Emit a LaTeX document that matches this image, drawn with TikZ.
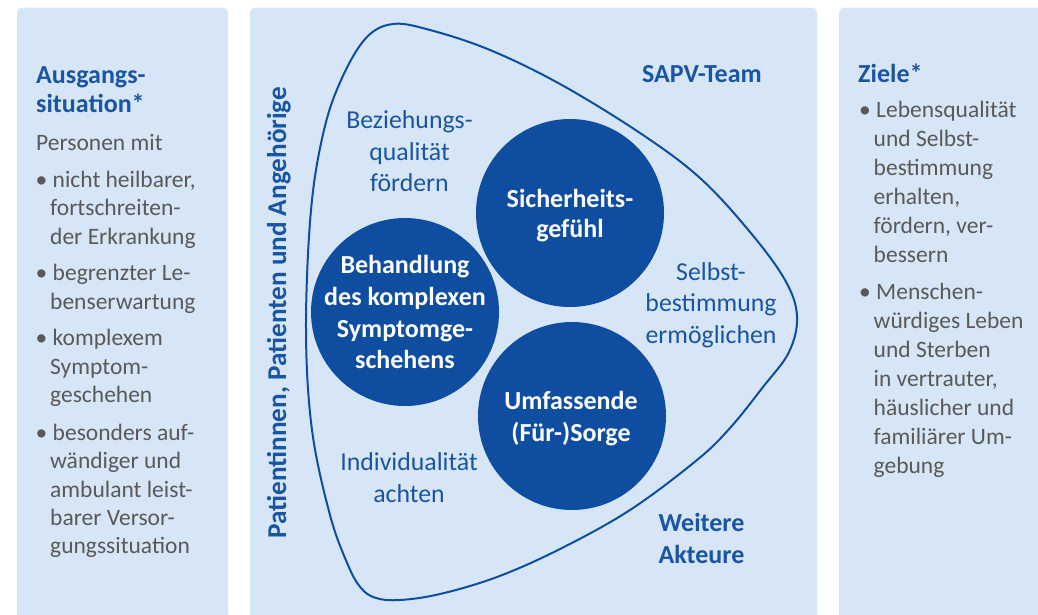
\documentclass[tikz,border=0pt]{standalone}
\usepackage{fontspec}
\setmainfont{Carlito}
\definecolor{panel}{HTML}{D6E6F6}
\definecolor{dblue}{HTML}{0E4DA0}
\definecolor{tblue}{HTML}{1A55A3}
\definecolor{tgray}{HTML}{595959}
\begin{document}
\begin{tikzpicture}[x=1pt,y=-1pt,
  graytxt/.style={anchor=base west, inner sep=0pt, text=tgray, font=\fontsize{23.5}{28}\selectfont},
  headtxt/.style={anchor=base west, inner sep=0pt, text=tblue, font=\fontsize{26}{30}\selectfont\bfseries},
  bluetxt/.style={anchor=base, inner sep=0pt, text=tblue, font=\fontsize{25.8}{31}\selectfont},
  boldblue/.style={anchor=base, inner sep=0pt, text=tblue, font=\fontsize{26}{31}\selectfont\bfseries},
  circtxt/.style={anchor=base, inner sep=0pt, text=white, font=\fontsize{26}{31}\selectfont\bfseries},
  disc/.style={circle, fill=dblue, draw=none, inner sep=0pt, minimum size=188pt},
  outline/.style={draw=dblue, line width=2pt}]
\useasboundingbox (0,0) rectangle (1038,614);
\clip (0,0) rectangle (1038,614);
\fill[white] (0,0) rectangle (1038,614);
% panels
\fill[panel, rounded corners=5pt] (17,7.5) rectangle (228,640);
\fill[panel, rounded corners=5pt] (250,7.5) rectangle (817,640);
\fill[panel, rounded corners=5pt] (839,7.5) rectangle (1060,640);

% left panel
\node[headtxt] (h1) at (36,83) {Ausgangs-};
\node[headtxt] (h2) at (36,112) {situation*};
\node[graytxt] (l0) at (36,150) {Personen mit};
\node[graytxt] (l1) at (35.5,187) {• nicht heilbarer,};
\node[graytxt] (l2) at (50,215.5) {fortschreiten-};
\node[graytxt] (l3) at (50,244) {der Erkrankung};
\node[graytxt] (l4) at (35.5,280.5) {• begrenzter Le-};
\node[graytxt] (l5) at (50,309) {benserwartung};
\node[graytxt] (l6) at (35.5,345.5) {• komplexem};
\node[graytxt] (l7) at (50,374) {Symptom-};
\node[graytxt] (l8) at (50,402.5) {geschehen};
\node[graytxt] (l9) at (35.5,440) {• besonders auf-};
\node[graytxt] (l10) at (50,468.5) {wändiger und};
\node[graytxt] (l11) at (50,497) {ambulant leist-};
\node[graytxt] (l12) at (50,525) {barer Versor-};
\node[graytxt] (l13) at (50,553.5) {gungssituation};

% right panel
\node[headtxt] (z0) at (858,82) {Ziele*};
\node[graytxt] (r1) at (859,117) {• Lebensqualität};
\node[graytxt] (r2) at (873.5,146) {und Selbst-};
\node[graytxt] (r3) at (873.5,175) {bestimmung};
\node[graytxt] (r4) at (873.5,204) {erhalten,};
\node[graytxt] (r5) at (873.5,233) {fördern, ver-};
\node[graytxt] (r6) at (873.5,262) {bessern};
\node[graytxt] (r7) at (859,299) {• Menschen-};
\node[graytxt] (r8) at (873.5,328) {würdiges Leben};
\node[graytxt] (r9) at (873.5,357) {und Sterben};
\node[graytxt] (r10) at (873.5,386) {in vertrauter,};
\node[graytxt] (r11) at (873.5,415) {häuslicher und};
\node[graytxt] (r12) at (873.5,444) {familiärer Um-};
\node[graytxt] (r13) at (873.5,473) {gebung};

% middle panel: outline
\draw[outline] plot[smooth cycle, tension=0.6] coordinates {
 (393,24) (430,30) (490,50) (560,84) (640,133) (700,178)
 (750,232) (785,280) (797,316) (789,352) (763,387) (730,428) (697,460)
 (630,510) (560,549) (497,577) (440,594) (400,600)
 (376,598) (361,588) (348,565) (330,515) (312,430) (306,330) (311,210)
 (324,130) (342,78) (366,38)};

\node[boldblue, rotate=90, font=\fontsize{27.2}{31}\selectfont\bfseries] (pat) at (286,312.5) {Patientinnen, Patienten und Angehörige};
\node[boldblue] (sapv) at (702,82) {SAPV-Team};
\node[boldblue] (w1) at (701.5,531) {Weitere};
\node[boldblue] (w2) at (701.5,563) {Akteure};

\node[bluetxt] (b1) at (409.5,128) {Beziehungs-};
\node[bluetxt] (b2) at (409.5,160) {qualität};
\node[bluetxt] (b3) at (409.5,191) {fördern};
\node[bluetxt] (s1) at (711,280) {Selbst-};
\node[bluetxt] (s2) at (711,311.5) {bestimmung};
\node[bluetxt] (s3) at (711,343) {ermöglichen};
\node[bluetxt] (i1) at (409,470) {Individualität};
\node[bluetxt] (i2) at (409,502) {achten};

% circles
\node[disc] (sich) at (570,213) {};
\node[disc] (beh) at (405,312) {};
\node[disc] (umf) at (572,416) {};

\node[circtxt] (c11) at (570,207) {Sicherheits-};
\node[circtxt] (c12) at (570,237.5) {gefühl};
\node[circtxt] (c21) at (405,273) {Behandlung};
\node[circtxt] (c22) at (405,305) {des komplexen};
\node[circtxt] (c23) at (405,337) {Symptomge-};
\node[circtxt] (c24) at (405,368) {schehens};
\node[circtxt] (c31) at (571,409) {Umfassende};
\node[circtxt] (c32) at (571,441.5) {(Für-)Sorge};
\end{tikzpicture}
\end{document}
